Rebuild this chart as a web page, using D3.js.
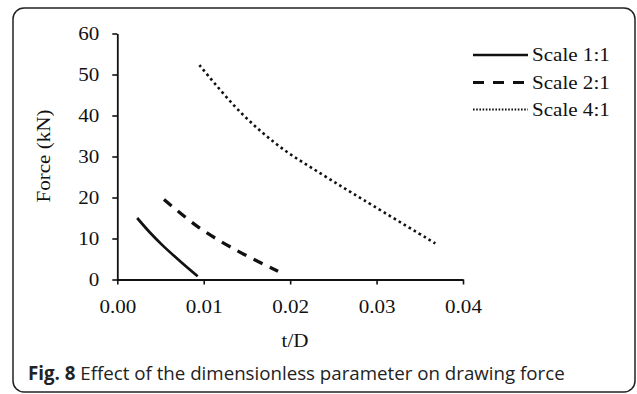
<!DOCTYPE html>
<html><head><meta charset="utf-8">
<script src="https://cdn.jsdelivr.net/npm/d3@7"></script>
<style>body{margin:0;background:#fff}svg{display:block}</style>
</head><body>
<script>
const xTicks = [0, 0.01, 0.02, 0.03, 0.04];
const xTickLabels = ["0.00", "0.01", "0.02", "0.03", "0.04"];
const yTicks = [0, 10, 20, 30, 40, 50, 60];
const seriesNames = ["Scale 1:1", "Scale 2:1", "Scale 4:1"];
const x11 = [0.0023, 0.0038, 0.0053, 0.0072, 0.0093];
const y11 = [15.0, 11.4, 8.2, 4.6, 0.8];
const x21 = [0.0054, 0.0095, 0.0138, 0.0186];
const y21 = [19.5, 12.6, 7.1, 2.0];
const x41 = [0.0095, 0.0142, 0.0188, 0.0238, 0.0285, 0.0368];
const y41 = [52.3, 40.9, 32.4, 25.5, 19.4, 8.8];

const W = 637, H = 394;
const svg = d3.select("body").append("svg").attr("width", W).attr("height", H);
svg.append("rect").attr("x", 13).attr("y", 8).attr("width", 622).attr("height", 384)
  .attr("rx", 11).attr("fill", "#fff").attr("stroke", "#222").attr("stroke-width", 1.5);

const x = d3.scaleLinear().domain([0, 0.04]).range([117.3, 463]);
const y = d3.scaleLinear().domain([0, 60]).range([279.5, 33.5]);
const serif = "'Liberation Serif','Times New Roman',serif";
const stretch = 1.17;
function stretchText(sel) {
  sel.each(function () {
    const l = this.getComputedTextLength();
    d3.select(this).attr("textLength", l * stretch).attr("lengthAdjust", "spacingAndGlyphs");
  });
}

const xa = svg.append("g").attr("transform", `translate(0,${y(0)})`)
  .call(d3.axisBottom(x).tickValues(xTicks).tickFormat((d, i) => xTickLabels[i]).tickSize(5).tickSizeOuter(0).tickPadding(16));
const ya = svg.append("g").attr("transform", `translate(${x(0)},0)`)
  .call(d3.axisLeft(y).tickValues(yTicks).tickSize(5).tickSizeOuter(0).tickPadding(13));
[xa, ya].forEach(a => {
  a.select(".domain").attr("stroke", "#111").attr("stroke-width", 1.8);
  a.selectAll(".tick line").attr("stroke", "#111").attr("stroke-width", 1.6);
  a.selectAll("text").attr("font-family", serif).attr("font-size", 18).attr("fill", "#111").call(stretchText);
});

svg.append("text").attr("x", 295).attr("y", 347).attr("text-anchor", "middle")
  .attr("font-family", serif).attr("font-size", 18).attr("fill", "#111").text("t/D").call(stretchText);
svg.append("text").attr("transform", "translate(50,156) rotate(-90)").attr("text-anchor", "middle")
  .attr("font-family", serif).attr("font-size", 18).attr("fill", "#111").text("Force (kN)").call(stretchText);

const line = d3.line().x(d => x(d[0])).y(d => y(d[1])).curve(d3.curveCatmullRom);
const styles = [
  {w: 2.7, dash: null, ldash: null, lw: 2.6},
  {w: 3.3, dash: "10,8", ldash: "11,9", lw: 3.2},
  {w: 2.6, dash: "2.6,3.2", ldash: "1.6,1.6", lw: 1.9}
];
const data = [d3.zip(x11, y11), d3.zip(x21, y21), d3.zip(x41, y41)];
data.forEach((pts, i) => {
  svg.append("path").attr("d", line(pts)).attr("fill", "none").attr("stroke", "#111")
    .attr("stroke-width", styles[i].w).attr("stroke-dasharray", styles[i].dash);
});

const legY = [55, 82.5, 109.5];
seriesNames.forEach((n, i) => {
  svg.append("line").attr("x1", 473).attr("x2", 528).attr("y1", legY[i]).attr("y2", legY[i])
    .attr("stroke", "#111").attr("stroke-width", styles[i].lw).attr("stroke-dasharray", styles[i].ldash);
  svg.append("text").attr("x", 532).attr("y", legY[i] + 6).attr("font-family", serif)
    .attr("font-size", 18).attr("fill", "#111").text(n).call(stretchText);
});

const cap = svg.append("text").attr("x", 28).attr("y", 380)
  .attr("font-family", "'Open Sans','Noto Sans',sans-serif").attr("font-size", 16).attr("fill", "#222");
cap.append("tspan").attr("font-weight", "bold").text("Fig. 8");
cap.append("tspan").text(" Effect of the dimensionless parameter on drawing force");
const cw = cap.node().getComputedTextLength();
cap.attr("font-size", 16 * 537 / cw);
</script>
</body></html>
